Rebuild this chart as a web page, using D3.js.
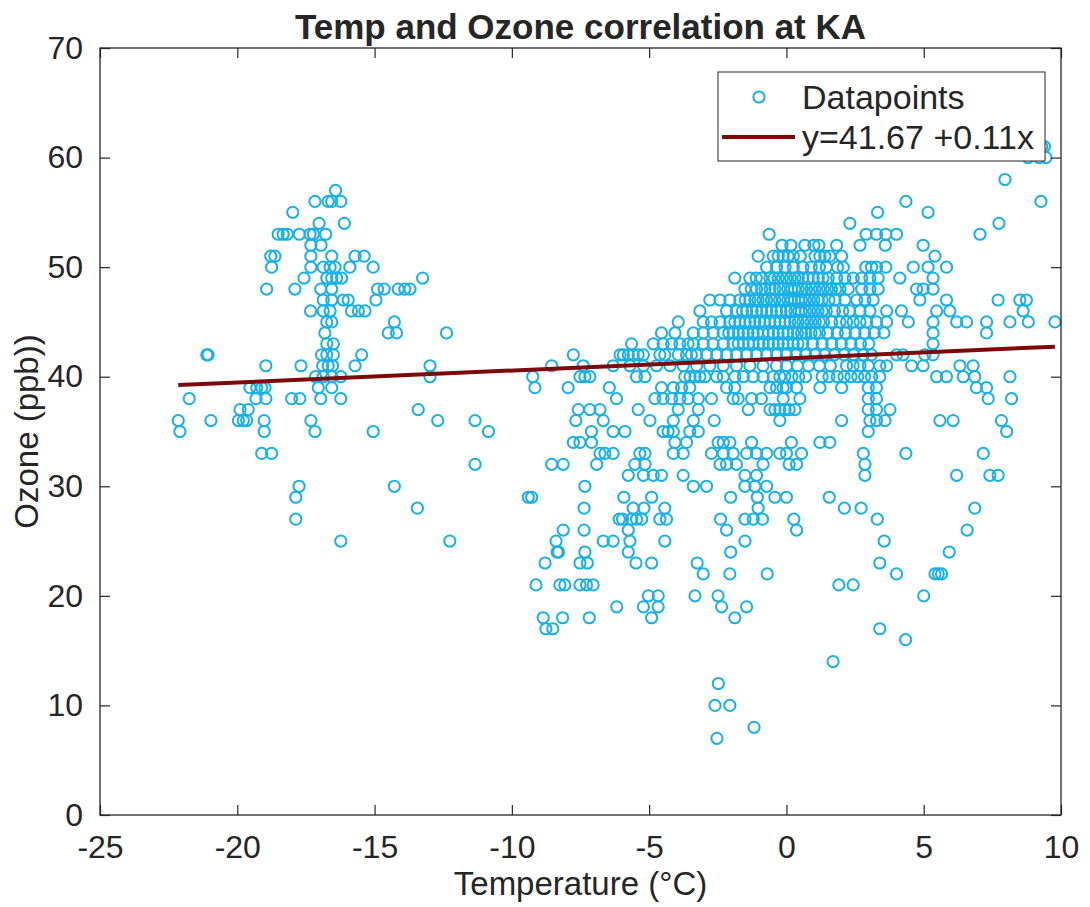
<!DOCTYPE html>
<html>
<head>
<meta charset="utf-8">
<script src="https://cdn.jsdelivr.net/npm/d3@7"></script>
<style>
  body { margin: 0; background: #fff; }
  text { font-family: "Liberation Sans", Arial, Helvetica, sans-serif; fill: #262626; }
</style>
</head>
<body>
<div id="chart"></div>
<script>
//
// Temp vs Ozone scatter at KA
//

// ozone readings are whole ppb, so points are kept by ozone level
var ozoneLevels = [61, 60, 58, 57, 56, 55, 54, 53, 52, 51, 50, 49, 48, 47, 46, 45, 44, 43, 42, 41, 40,
                   39, 38, 37, 36, 35, 34, 33, 32, 31, 30, 29, 28, 27, 26, 25, 24, 23, 22, 21, 20,
                   19, 18, 17, 16, 14, 12, 10, 8, 7];

var tempsAtLevel = [
  [9.3, 9.4],
  [8.8, 9.2, 9.45],
  [7.96],
  [-16.42],
  [-17.17, -16.69, -16.56, -16.23, 4.35, 9.27],
  [-17.98, 3.32, 5.16],
  [-17.02, -16.1, 2.31, 7.74],
  [-18.51, -18.33, -18.18, -17.74, -17.35, -17.23, -16.78, -0.63, 2.9, 3.28, 3.62, 4.01, 7.05],
  [-17.32, -16.95, -0.16, 0.16, 0.67, 1.0, 1.18, 1.83, 2.68, 3.6, 4.98],
  [-18.78, -18.63, -17.32, -16.56, -15.71, -15.38, -1.03, -0.48, -0.3, -0.12, 0.06, 0.25, 0.5, 1.04, 1.22, 1.4, 1.58, 2.01, 5.41],
  [-18.75, -17.32, -16.87, -16.62, -16.44, -15.9, -15.05, -0.72, -0.36, -0.05, 0.25, 0.6, 0.9, 1.2, 1.45, 1.86, 2.07, 2.89, 3.1, 3.28, 3.62, 4.62, 5.16, 5.83],
  [-17.57, -16.74, -16.56, -16.38, -16.2, -13.25, -1.88, -1.33, -1.1, -0.9, -0.6, -0.45, -0.3, -0.15, 0.0, 0.15, 0.31, 0.43, 0.6, 0.79, 0.97, 1.16, 1.33, 1.52, 1.83, 2.13, 2.43, 2.74, 3.04, 3.34, 4.13, 5.34],
  [-18.93, -17.9, -16.96, -16.56, -14.89, -14.65, -14.14, -13.9, -13.71, -1.51, -1.28, -1.09, -0.9, -0.78, -0.6, -0.42, -0.25, -0.12, 0.05, 0.18, 0.3, 0.43, 0.58, 0.73, 0.9, 1.04, 1.2, 1.34, 1.5, 1.64, 1.8, 1.95, 2.25, 2.74, 3.04, 3.34, 4.74, 4.98, 5.34],
  [-16.87, -16.56, -16.14, -15.96, -14.95, -2.79, -2.42, -2.06, -1.7, -1.5, -1.33, -1.15, -1.03, -0.85, -0.72, -0.55, -0.42, -0.25, -0.12, 0.05, 0.18, 0.3, 0.43, 0.55, 0.7, 0.85, 1.0, 1.15, 1.3, 1.55, 1.77, 2.13, 2.56, 2.86, 3.16, 4.86, 5.83, 7.71, 8.5, 8.74],
  [-17.33, -16.87, -16.62, -15.84, -15.59, -15.35, -3.15, -2.18, -1.82, -1.6, -1.45, -1.25, -1.09, -0.9, -0.72, -0.55, -0.36, -0.2, 0.0, 0.15, 0.31, 0.45, 0.55, 0.7, 0.85, 1.0, 1.15, 1.3, 1.45, 1.75, 2.05, 2.3, 2.68, 3.04, 3.65, 4.19, 5.47, 5.95, 8.62],
  [-16.74, -16.56, -14.28, -3.94, -3.03, -2.73, -2.42, -2.06, -1.88, -1.7, -1.5, -1.33, -1.15, -0.97, -0.8, -0.6, -0.42, -0.24, -0.05, 0.13, 0.3, 0.43, 0.6, 0.75, 0.9, 1.05, 1.2, 1.35, 1.65, 1.95, 2.19, 2.43, 2.68, 2.92, 3.28, 3.65, 4.44, 5.34, 6.2, 6.56, 7.29, 8.14, 8.81, 9.78],
  [-16.81, -14.5, -14.2, -12.38, -4.55, -4.06, -3.39, -3.03, -2.67, -2.3, -2.1, -1.94, -1.75, -1.57, -1.4, -1.21, -1.05, -0.85, -0.65, -0.48, -0.3, -0.12, 0.05, 0.25, 0.4, 0.55, 0.7, 0.9, 1.05, 1.2, 1.5, 1.85, 2.15, 2.5, 2.85, 3.2, 3.55, 5.34, 7.29],
  [-16.74, -16.5, -5.64, -4.85, -4.49, -4.18, -3.88, -3.58, -3.39, -3.03, -2.67, -2.3, -1.94, -1.75, -1.57, -1.38, -1.21, -1.0, -0.85, -0.65, -0.48, -0.3, -0.12, 0.05, 0.25, 0.42, 0.6, 0.95, 1.3, 1.65, 2.0, 2.35, 2.7, 3.0, 5.34],
  [-21.11, -21.06, -16.93, -16.74, -16.5, -15.47, -7.76, -6.06, -5.94, -5.76, -5.58, -5.4, -5.21, -4.61, -4.43, -3.94, -3.64, -3.46, -3.27, -2.91, -2.54, -2.18, -1.82, -1.45, -1.09, -0.72, -0.36, 0.0, 0.35, 0.7, 1.05, 1.4, 1.75, 2.1, 2.45, 2.8, 3.1, 4.01, 4.25, 5.04, 5.34],
  [-18.96, -17.68, -16.89, -16.69, -16.53, -15.71, -12.98, -8.55, -7.4, -6.31, -5.7, -5.21, -4.73, -4.24, -3.76, -3.27, -2.79, -2.3, -1.82, -1.33, -0.85, -0.36, 0.0, 0.4, 0.8, 1.2, 1.6, 2.19, 2.43, 2.68, 2.98, 3.4, 3.65, 4.56, 4.98, 6.32, 6.8],
  [-17.15, -16.87, -16.56, -16.23, -12.98, -9.24, -7.52, -7.34, -7.16, -5.46, -5.15, -3.7, -3.51, -3.33, -3.15, -2.97, -2.54, -2.3, -1.88, -1.57, -1.21, -0.85, -0.48, -0.24, -0.06, 0.2, 0.45, 0.7, 1.3, 1.55, 1.85, 2.1, 2.35, 2.6, 2.85, 3.1, 3.4, 5.47, 5.83, 6.44, 6.86, 8.14],
  [-19.54, -19.29, -19.11, -18.99, -17.05, -16.56, -9.16, -7.95, -6.45, -4.55, -4.12, -3.82, -3.52, -2.18, -1.88, -0.6, -0.36, -0.12, 0.0, 0.37, 1.22, 2.01, 2.98, 3.28, 6.92, 7.29],
  [-21.75, -19.32, -18.96, -18.02, -17.72, -16.96, -16.23, -6.19, -4.79, -4.49, -4.18, -3.88, -3.58, -3.21, -2.73, -1.94, -1.76, -1.27, -0.91, -0.12, 0.49, 2.98, 3.28, 7.35, 8.2],
  [-19.9, -19.6, -13.41, -7.58, -7.16, -6.79, -5.4, -3.94, -3.21, -1.39, -0.6, -0.42, -0.24, -0.05, 0.1, 0.31, 2.98, 3.28, 3.77],
  [-22.15, -20.96, -19.96, -19.78, -19.66, -19.02, -17.32, -12.7, -11.34, -7.67, -6.67, -4.97, -4.12, -3.39, -2.63, -0.24, 2.01, 3.04, 3.28, 3.59, 5.59, 6.07, 7.83],
  [-22.09, -19.02, -17.17, -15.05, -10.85, -7.1, -6.31, -5.88, -4.49, -4.31, -4.12, -3.52, -3.21, 2.98, 8.02],
  [-7.76, -7.52, -7.1, -4.06, -3.64, -2.49, -2.3, -2.06, -1.27, 0.18, 1.22, 1.58],
  [-19.11, -18.75, -6.79, -6.61, -6.31, -5.34, -5.15, -4.12, -3.76, -2.73, -2.3, -1.94, -1.45, -1.09, -0.72, -0.24, 0.0, 0.55, 2.8, 4.35, 7.17],
  [-11.34, -8.55, -8.13, -6.91, -5.52, -5.15, -2.42, -2.18, -1.82, -0.85, 0.1, 0.37, 2.86],
  [-5.76, -5.21, -4.85, -4.55, -3.76, -1.51, -1.09, 2.86, 6.2, 7.41, 7.71],
  [-17.75, -14.28, -7.34, -3.39, -2.91, -1.51, -1.15, -0.72],
  [-17.87, -9.4, -9.28, -5.92, -4.91, -2.03, -1.06, -0.42, 0.0, 1.56],
  [-13.44, -7.37, -5.58, -5.19, -4.43, -1.03, 2.11, 2.72, 6.86],
  [-17.87, -6.09, -5.97, -5.64, -5.46, -5.27, -4.61, -4.37, -2.4, -1.51, -1.21, -0.87, 0.27, 3.31],
  [-8.13, -7.37, -5.76, -2.18, 0.37, 6.58],
  [-16.23, -12.26, -8.39, -6.67, -6.31, -5.7, -4.43, -1.51, 3.56],
  [-8.35, -8.3, -7.34, -5.76, -2.03, 5.93],
  [-8.79, -7.52, -7.25, -5.48, -4.91, -3.25, 3.4],
  [-3.03, -2.06, -0.7, 4.01, 5.41, 5.53, 5.65],
  [-9.12, -8.25, -8.07, -7.52, -7.28, -7.04, 1.91, 2.43],
  [-5.03, -4.67, -3.33, -2.49, 5.0],
  [-6.18, -5.21, -4.67, -2.36, -1.45],
  [-8.86, -8.15, -7.18, -4.91, -1.88],
  [-8.76, -8.51, 3.4],
  [4.34],
  [1.7],
  [-2.48],
  [-2.6, -2.06],
  [-1.18],
  [-2.53]
];

// least squares fit shown in the legend
var fitIntercept = 41.67, fitSlope = 0.11;

var xTicks = [-25, -20, -15, -10, -5, 0, 5, 10];
var yTicks = [0, 10, 20, 30, 40, 50, 60, 70];

var legendLabels = ["Datapoints", "y=41.67 +0.11x"];

var total_width = 1090, total_height = 907;
var margin = {top: 48, right: 29, bottom: 92, left: 100},
    width = total_width - margin.left - margin.right,
    height = total_height - margin.top - margin.bottom;

var dotColor = "#1ab0e8", fitColor = "#7d0a0a", axisColor = "#262626";
var dotRadius = 5.6;

var points = [];
ozoneLevels.forEach(function(o, i) {
  tempsAtLevel[i].forEach(function(t) { points.push({temp: t, ozone: o}); });
});

var svg = d3.select("#chart").append("svg")
    .attr("width", total_width)
    .attr("height", total_height);

var g = svg.append("g")
    .attr("transform", "translate(" + margin.left + "," + margin.top + ")");

var x = d3.scaleLinear().domain([-25, 10]).range([0, width]);
var y = d3.scaleLinear().domain([0, 70]).range([height, 0]);

// points
g.append("g").selectAll("circle")
  .data(points)
  .enter()
  .append("circle")
    .attr("cx", d => x(d.temp))
    .attr("cy", d => y(d.ozone))
    .attr("r", dotRadius)
    .attr("fill", "none")
    .attr("stroke", dotColor)
    .attr("stroke-width", 2);

// fitted line over the span of the data
var tExtent = d3.extent(points, d => d.temp);
g.append("path")
    .datum(tExtent.map(t => ({t: t, o: fitIntercept + fitSlope * t})))
    .attr("fill", "none")
    .attr("stroke", fitColor)
    .attr("stroke-width", 4)
    .attr("d", d3.line().x(d => x(d.t)).y(d => y(d.o)));

// axes, inner ticks on all four sides (matlab box style)
function styleAxis(sel) {
  sel.select(".domain").remove();
  sel.selectAll(".tick line").attr("stroke", axisColor).attr("stroke-width", 1.2);
  sel.selectAll(".tick text")
    .attr("font-size", 32)
    .attr("fill", axisColor)
    .style("font-family", "'Liberation Sans', Arial, sans-serif");
}

var plainFmt = d => String(d);   // hyphen minus like the original

g.append("g")
    .attr("transform", "translate(0," + height + ")")
    .call(d3.axisBottom(x).tickValues(xTicks).tickSizeInner(-10).tickSizeOuter(0).tickPadding(20).tickFormat(plainFmt))
    .call(styleAxis);

g.append("g")
    .call(d3.axisTop(x).tickValues(xTicks).tickSizeInner(-10).tickSizeOuter(0).tickFormat(""))
    .call(styleAxis);

g.append("g")
    .call(d3.axisLeft(y).tickValues(yTicks).tickSizeInner(-10).tickSizeOuter(0).tickPadding(17).tickFormat(plainFmt))
    .call(styleAxis);

g.append("g")
    .attr("transform", "translate(" + width + ",0)")
    .call(d3.axisRight(y).tickValues(yTicks).tickSizeInner(-10).tickSizeOuter(0).tickFormat(""))
    .call(styleAxis);

g.append("rect")
    .attr("width", width)
    .attr("height", height)
    .attr("fill", "none")
    .attr("stroke", axisColor)
    .attr("stroke-width", 1.3);

// labels
svg.append("text")
    .attr("x", margin.left + width / 2)
    .attr("y", 39)
    .attr("text-anchor", "middle")
    .attr("font-size", 35)
    .attr("font-weight", "bold")
    .attr("fill", "#000")
    .text("Temp and Ozone correlation at KA");

svg.append("text")
    .attr("x", margin.left + width / 2)
    .attr("y", 895)
    .attr("text-anchor", "middle")
    .attr("font-size", 33)
    .text("Temperature (\u00B0C)");

svg.append("text")
    .attr("transform", "translate(38," + (margin.top + height / 2) + ") rotate(-90)")
    .attr("text-anchor", "middle")
    .attr("font-size", 33)
    .text("Ozone (ppb))");

// legend
var legend = svg.append("g").attr("transform", "translate(718,72)");
legend.append("rect")
    .attr("width", 327)
    .attr("height", 89)
    .attr("fill", "#fff")
    .attr("stroke", axisColor)
    .attr("stroke-width", 1);

legend.append("circle")
    .attr("cx", 41).attr("cy", 25).attr("r", dotRadius)
    .attr("fill", "none").attr("stroke", dotColor).attr("stroke-width", 2);

legend.append("line")
    .attr("x1", 4).attr("x2", 77).attr("y1", 65).attr("y2", 65)
    .attr("stroke", fitColor).attr("stroke-width", 4);

legend.selectAll("text.lbl")
  .data(legendLabels)
  .enter()
  .append("text")
    .attr("class", "lbl")
    .attr("x", 84)
    .attr("y", (d, i) => 37 + i * 40)
    .attr("font-size", 34)
    .attr("fill", "#000")
    .text(d => d);
</script>
</body>
</html>
